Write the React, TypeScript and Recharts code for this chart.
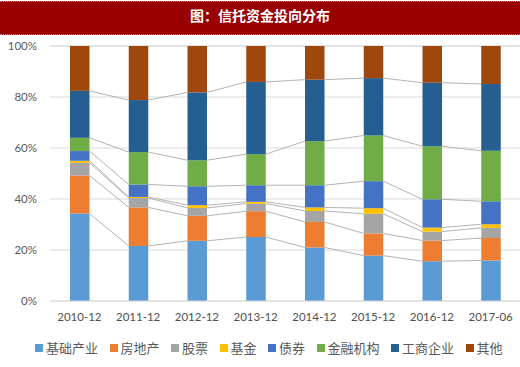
import React from 'react';
import { BarChart, Bar, XAxis, YAxis, CartesianGrid, Legend } from 'recharts';

const categories = ['2010-12', '2011-12', '2012-12', '2013-12', '2014-12', '2015-12', '2016-12', '2017-06'];

const infra = [34.3, 21.6, 23.6, 25.1, 21.0, 17.8, 15.6, 15.9];
const realEstate = [14.9, 15.1, 9.8, 10.1, 10.0, 8.7, 8.1, 8.8];
const stocks = [5.0, 3.7, 3.1, 3.0, 4.3, 7.7, 3.5, 4.0];
const funds = [0.8, 0.4, 1.1, 0.7, 1.4, 2.2, 1.6, 1.4];
const bonds = [3.8, 4.9, 7.4, 6.5, 8.7, 10.6, 11.1, 9.0];
const financial = [5.2, 12.7, 10.2, 12.2, 17.3, 17.9, 20.8, 19.8];
const industrial = [18.4, 20.4, 26.6, 28.3, 24.1, 22.5, 24.9, 26.2];
const others = [17.6, 21.2, 18.2, 14.1, 13.2, 12.6, 14.4, 14.9];

const seriesNames = ['基础产业', '房地产', '股票', '基金', '债券', '金融机构', '工商企业', '其他'];
const seriesValues = [infra, realEstate, stocks, funds, bonds, financial, industrial, others];
const COLORS = ['#5B9BD5', '#ED7D31', '#A5A5A5', '#FFC000', '#4472C4', '#70AD47', '#255E91', '#9E480E'];

const yTicks = [0, 20, 40, 60, 80, 100];

const W = 520;
const H = 367;
const Y_AXIS_W = 50;
const MARGIN = { top: 46, right: 0, left: 0, bottom: 12 };
const X_AXIS_H = 40;
const LEGEND_H = 14;

const data = categories.map((c, i) => {
  const row: any = { category: c };
  seriesNames.forEach((n, s) => { row[n] = seriesValues[s][i]; });
  return row;
});

// running top of each stack segment, used for the connector lines
const cumTops = seriesValues.map((_, s) =>
  categories.map((_, i) => seriesValues.slice(0, s + 1).reduce((acc, v) => acc + v[i], 0))
);

const step = (W - MARGIN.left - MARGIN.right - Y_AXIS_W) / categories.length;

const makeShape = (s: number) => (props: any) => {
  const { x, y, width, height, fill, background, payload } = props;
  let i = typeof props.index === 'number' ? props.index : categories.indexOf(payload?.category);
  const parts = [<rect key="r" x={x} y={y} width={width} height={Math.max(height, 0)} fill={fill} />];
  if (s < seriesNames.length - 1 && i >= 0 && i < categories.length - 1) {
    const bgY = background ? background.y : MARGIN.top;
    const bgH = background ? background.height : H - MARGIN.top - MARGIN.bottom - X_AXIS_H - LEGEND_H;
    const y2 = bgY + bgH * (1 - cumTops[s][i + 1] / 100);
    parts.push(
      <line key="l" x1={x + width} y1={y} x2={x + step} y2={y2} stroke="#B4B4B4" strokeWidth={1} />
    );
  }
  return <g>{parts}</g>;
};

const renderLegend = () => (
  <div style={{ height: LEGEND_H, display: 'flex', alignItems: 'center', paddingLeft: 35, whiteSpace: 'nowrap' }}>
    {seriesNames.map((n, s) => (
      <div key={n} style={{ display: 'flex', alignItems: 'center', marginRight: 11.5, flexShrink: 0 }}>
        <span style={{ width: 8, height: 8, background: COLORS[s], marginRight: 3, display: 'inline-block', flexShrink: 0 }} />
        <span style={{ fontSize: 13, color: '#595959', fontFamily: '"Noto Sans CJK SC"', lineHeight: '14px', whiteSpace: 'nowrap' }}>{n}</span>
      </div>
    ))}
  </div>
);

export default function App() {
  return (
    <div style={{ position: 'relative', width: W, height: H, background: '#fff' }}>
      <style>{'body{margin:0}'}</style>
      <BarChart width={W} height={H} data={data} margin={MARGIN} barSize={19.5}>
        <CartesianGrid vertical={false} stroke="#D9D9D9" />
        <XAxis
          dataKey="category"
          height={X_AXIS_H}
          axisLine={{ stroke: '#D9D9D9' }}
          tickLine={false}
          tickMargin={6}
          tick={{ fontSize: 11.5, fill: '#505050', fontFamily: 'Lato' }}
        />
        <YAxis
          width={Y_AXIS_W}
          domain={[0, 100]}
          ticks={yTicks}
          axisLine={false}
          tickLine={false}
          tickMargin={7}
          tickFormatter={(v: number) => `${v}%`}
          tick={{ fontSize: 11.5, fill: '#595959', fontFamily: 'Lato' }}
        />
        <Legend verticalAlign="bottom" height={LEGEND_H} wrapperStyle={{ width: W, left: 0 }} content={renderLegend} />
        {seriesNames.map((n, s) => (
          <Bar key={n} dataKey={n} stackId="a" fill={COLORS[s]} shape={makeShape(s)} isAnimationActive={false} />
        ))}
      </BarChart>
      <div
        style={{
          position: 'absolute', left: 0, top: 1, width: W, height: 32,
          background: '#990000', color: '#fff', fontWeight: 'bold', fontSize: 14,
          fontFamily: '"Noto Sans CJK SC"', textAlign: 'center', lineHeight: '27px',
          borderTop: '1px dotted #9090C0', borderBottom: '1px dotted #9090C0',
        }}
      >
        图：信托资金投向分布
      </div>
    </div>
  );
}
